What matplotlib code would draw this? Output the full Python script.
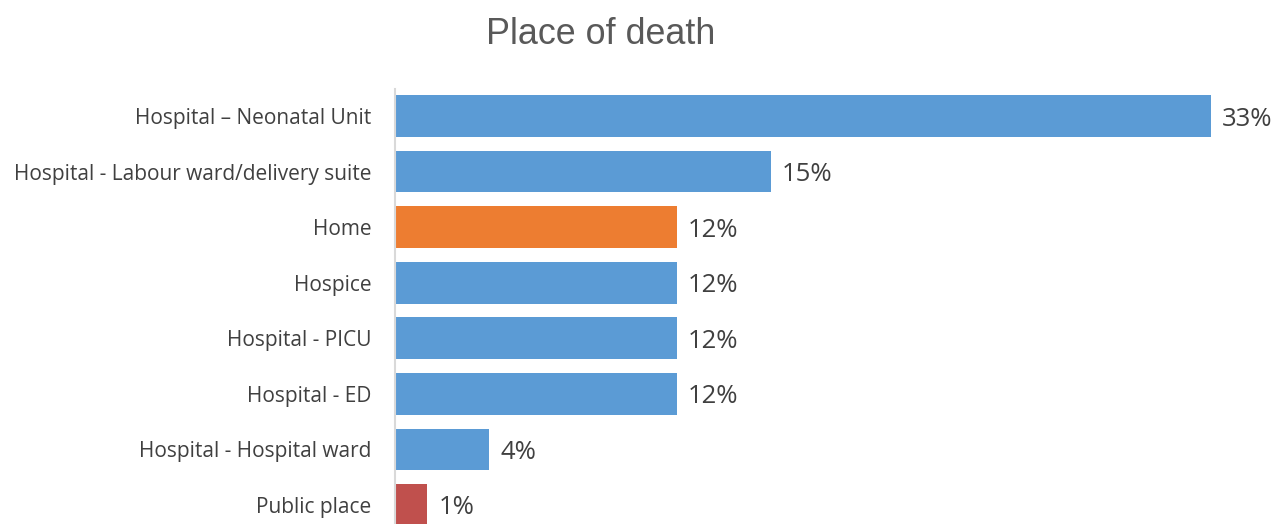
import matplotlib.pyplot as plt

places = ["Hospital \u2013 Neonatal Unit", "Hospital - Labour ward/delivery suite", "Home",
          "Hospice", "Hospital - PICU", "Hospital - ED", "Hospital - Hospital ward",
          "Public place"]
share = [33.0, 15.2, 11.4, 11.4, 11.4, 11.4, 3.8, 1.3]
share_labels = ["33%", "15%", "12%", "12%", "12%", "12%", "4%", "1%"]
colours = ["#5B9BD5", "#5B9BD5", "#ED7D31", "#5B9BD5", "#5B9BD5", "#5B9BD5", "#5B9BD5", "#C0504D"]

fig = plt.figure(figsize=(12.76, 5.24), dpi=100, facecolor="white")
ax = fig.add_axes([395 / 1276, 0.0, (1260 - 395) / 1276, (524 - 89) / 524])

pos = list(range(len(places)))
ax.barh(pos, share, height=0.75, color=colours)
for y, v, lab in zip(pos, share, share_labels):
    ax.annotate(lab, (v, y), xytext=(8, 0), textcoords="offset points",
                va="center_baseline", ha="left", fontsize=18.5, color="#404040",
                family="Open Sans")

ax.set_xlim(0, 35)
ax.set_ylim(7.342, -0.486)
ax.set_yticks(pos)
ax.set_yticklabels(places, fontsize=15, color="#404040", family="Open Sans")
ax.tick_params(axis="y", length=0, pad=17)
ax.set_xticks([])
for s in ["top", "right", "bottom"]:
    ax.spines[s].set_visible(False)
ax.spines["left"].set_color("#D9D9D9")
ax.spines["left"].set_linewidth(1.5)

fig.text(601 / 1276, 1 - 34 / 524, "Place of death", ha="center", va="center",
         fontsize=25.8, color="#595959", family="Liberation Sans")

fig.savefig("out.png", dpi=100)
